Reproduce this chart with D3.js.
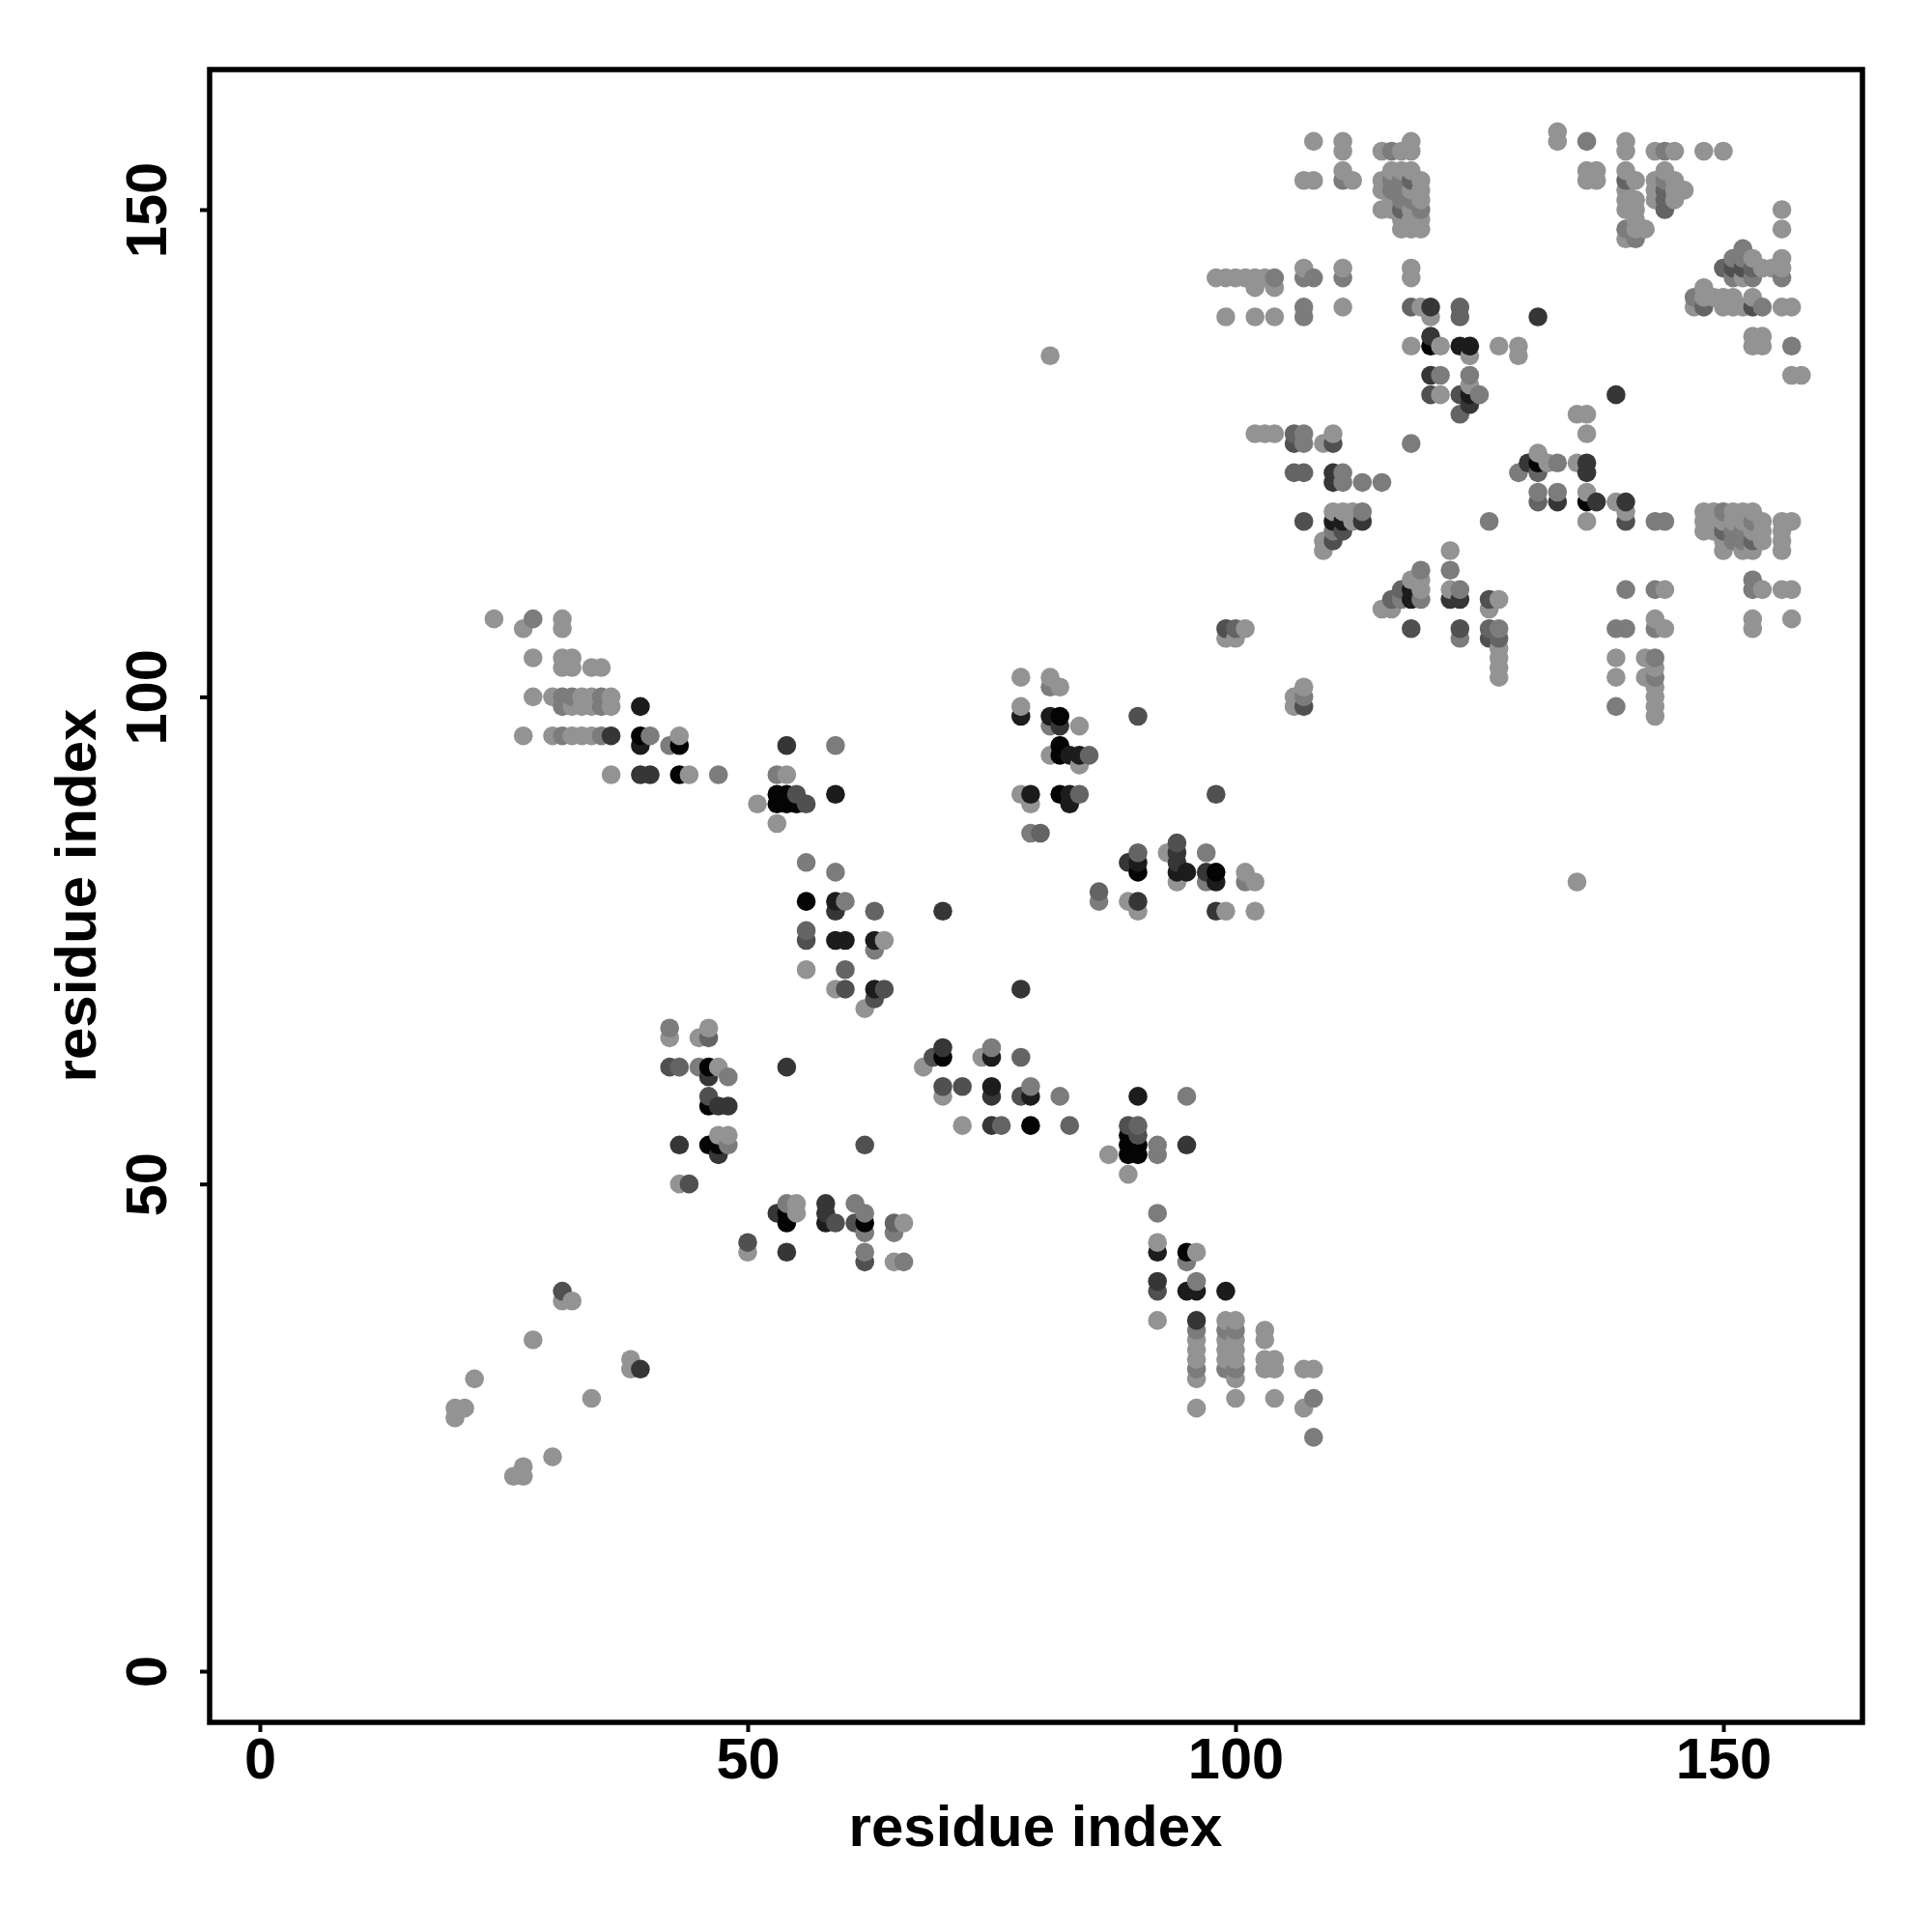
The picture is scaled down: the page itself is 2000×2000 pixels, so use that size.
<!DOCTYPE html>
<html><head><meta charset="utf-8">
<script src="https://d3js.org/d3.v7.min.js"></script>
<style>html,body{margin:0;padding:0;background:#fff}svg{display:block}</style>
</head><body>
<script>
const tickValues = [0, 50, 100, 150];
const axisTitle = "residue index";

// contacts [residue x, residue y], grouped by grey shade, light to dark
const shadeLight = [
[133,158],[108,157],[111,157],[118,157],[133,157],[140,157],[111,156],[115,156],[117,156],[118,156],[140,156],[143,156],[145,156],[148,156],[150,156],
[111,154],[116,154],[117,154],[118,154],[136,154],[137,154],[140,154],[144,154],
[107,153],[108,153],[112,153],[115,153],[119,153],[136,153],[137,153],[141,153],[143,153],[145,153],
[115,152],[118,152],[119,152],[140,152],[143,152],[145,152],[146,152],
[116,151],[119,151],[140,151],[141,151],[143,151],[145,151],
[115,150],[116,150],[118,150],[140,150],[141,150],[156,150],
[117,149],[118,149],[119,149],[141,149],[117,148],[118,148],[119,148],[141,148],[142,148],[156,148],[140,147],
[153,145],[156,145],[154,144],[155,144],[156,144],[152,143],[148,142],
[148,141],[149,141],[150,141],[151,141],[153,141],[147,140],[150,140],[151,140],[152,140],[156,140],[157,140],
[153,137],[154,137],[153,136],[154,136],[157,133],[158,133],
[98,143],[99,143],[100,143],[101,143],[102,143],[103,143],[102,142],[104,142],
[107,144],[111,144],[118,144],[118,143],[99,139],[102,139],[104,139],[111,140],[119,140],[120,139],
[118,136],[121,136],[127,136],[129,136],[124,135],[129,135],[124,132],[121,131],[125,131],[135,129],[136,129],[136,127],[81,135],[135,81],
[102,127],[103,127],[104,127],[110,127],[109,126],[131,125],[132,124],[135,124],
[131,121],[136,121],[139,120],[110,119],[111,119],[112,119],[140,119],[112,118],[136,118],[109,116],[109,115],
[148,119],[149,119],[151,119],[152,119],[153,119],[148,118],[149,118],[150,118],[151,118],[152,118],[154,118],[156,118],[157,118],
[148,117],[149,117],[153,117],[154,117],[156,117],[150,116],[154,116],[150,115],[152,115],[153,115],[156,115],[156,116],
[153,112],[154,111],[156,111],[157,111],[153,108],[153,107],[157,108],[144,111],[143,108],[144,107],
[139,104],[142,104],[143,103],[139,102],[142,102],[143,102],[143,101],[143,100],[143,99],[143,98],[127,105],[127,104],[127,103],[127,102],
[122,115],[118,112],[119,112],[119,111],[115,109],[116,109],[122,111],[127,110],[126,109],[101,107],[99,106],[100,106],[107,101],[106,100],[106,99],
[24,108],[27,107],[31,108],[31,107],[28,104],[31,104],[32,104],[31,103],[32,103],[34,103],[35,103],
[28,100],[30,100],[33,100],[34,100],[36,100],[32,99],[33,99],[34,99],[36,99],
[27,96],[30,96],[32,96],[33,96],[34,96],[43,96],[36,92],[44,92],[54,92],[51,89],[53,87],
[78,102],[81,102],[82,101],[78,99],[84,97],[81,94],[84,93],[78,90],[79,89],[93,84],[94,81],[101,82],[102,81],[89,79],[90,78],[99,78],[102,78],
[64,75],[56,72],[59,70],[62,68],[46,66],[42,65],[45,65],[47,62],[47,55],[48,55],[43,50],
[68,62],[74,63],[75,64],[70,59],[72,56],[87,53],[89,51],[95,59],[92,54],
[50,43],[55,48],[55,47],[66,46],[65,42],[92,44],[96,43],[92,36],
[96,34],[96,33],[96,32],[96,30],[96,27],[99,36],[100,36],[99,34],[100,34],[99,33],[100,33],[99,32],[100,32],[100,30],[100,28],
[103,35],[103,34],[103,32],[104,32],[103,31],[104,31],[104,28],[107,31],[108,31],[107,27],
[31,38],[32,38],[28,34],[38,32],[38,31],[22,30],[34,28],[20,27],[21,27],[20,26],[30,22],[27,21],[26,20],[27,20]
];
const shadeMid = [
[144,156],[116,156],[116,153],[117,153],[111,153],[144,153],[116,152],[117,152],[117,151],[118,151],[119,150],[140,148],[141,147],
[136,157],[152,146],[151,145],[152,145],[151,143],[153,143],[156,143],[147,141],[154,140],[157,136],
[104,143],[108,143],[111,143],[107,143],[118,140],[107,139],[107,140],[121,133],[124,133],[125,131],
[107,127],[118,126],[107,126],[133,124],[129,123],[111,123],[111,122],[113,122],[115,122],[133,121],[131,121],[113,119],
[126,118],[143,118],[144,118],[110,117],[150,119],[153,118],[151,117],[152,117],[152,116],[151,116],[153,112],[153,111],[140,111],[143,111],
[143,107],[139,107],[140,107],[143,104],[139,99],[122,113],[119,113],[117,110],[119,110],[123,111],[126,107],[127,107],[123,106],[100,107],[107,100],
[28,108],[31,100],[32,100],[35,100],[31,99],[35,99],[31,96],[35,96],[40,96],[42,95],[59,95],[47,92],[53,92],
[81,101],[81,97],[79,86],[97,84],[97,81],[101,81],[86,79],[59,82],[60,79],[63,74],[56,83],
[42,66],[48,61],[48,54],[45,62],[79,60],[82,59],[75,64],[78,63],[92,53],[92,54],[95,59],[83,56],
[54,48],[61,48],[62,47],[62,45],[62,43],[65,45],[66,42],[92,47],[96,40],[95,42],[96,35],[96,31],[99,35],[100,35],[99,31],[100,31],[108,28],[108,24],[143,102]
];
const shadeDim = [
[118,153],[140,153],[144,152],[144,151],[117,150],[144,150],[150,144],[153,144],[148,140],[118,140],[123,140],[123,139],[123,129],
[106,127],[106,123],[107,123],[131,123],[131,120],[150,117],[153,116],[116,110],[117,111],[127,106],[123,107],[126,107],[116,110],[118,107],[100,107],
[85,94],[84,90],[80,86],[90,84],[86,80],[56,76],[60,72],[60,70],[63,78],[46,65],[43,62],[78,63],[76,56],[65,46],[83,56],[90,56]
];
const shadeDark = [
[151,144],[152,144],[153,140],[106,126],[110,126],[123,131],[120,131],[111,117],[110,116],[107,118],[140,118],[126,110],[126,106],[99,107],[107,99],
[118,107],[123,107],[90,98],[98,90],[94,85],[56,75],[59,78],[63,69],[64,70],[60,70],[42,62],[46,59],[44,50],[69,63],[70,60],[72,60],[78,59],[89,56],[90,55],[62,54],
[50,44],[59,46],[62,42],[92,39],[31,39],[61,46],[55,90],[56,89]
];
const shadeBlackish = [
[131,139],[120,140],[120,137],[120,133],[130,124],[136,124],[136,123],[110,123],[110,122],[113,118],[133,120],[137,120],[140,120],[130,124],[122,110],[123,110],[139,131],[124,130],
[36,96],[39,92],[40,92],[54,95],[82,97],[89,83],[94,84],[94,83],[97,82],[90,79],[98,78],[70,78],[78,70],[59,78],
[47,58],[48,58],[43,54],[47,53],[46,61],[70,64],[75,59],[75,56],[95,54],[53,47],[58,48],[58,47],[54,43],[92,40],[96,36],[39,31],[48,58],[54,62]
];
const shadeNearBlack = [
[123,136],[124,136],[124,131],[110,118],[111,118],[118,111],[118,110],[39,99],[39,95],[59,90],[81,98],[83,94],[84,94],[83,90],[83,89],[79,90],[78,98],[90,83],[94,82],[95,82],[98,81],
[59,79],[60,75],[59,75],[63,75],[63,70],[75,63],[75,60],[79,59],[90,59],[58,46],[95,39],[96,39],[99,39],[92,43]
];
const shadeBlack = [
[120,136],[131,124],[136,120],[39,96],[43,95],[43,92],[53,90],[54,90],[53,89],[54,89],[55,89],[82,98],[82,94],[82,95],[82,90],[90,82],[98,82],
[56,79],[46,62],[46,58],[46,54],[47,54],[70,63],[79,56],[89,55],[89,54],[90,54],[89,53],[90,53],[54,47],[54,46],[62,46],[95,43]
];

const shadeGroups = [
  {color:"#939393", pts:shadeLight},
  {color:"#7c7c7c", pts:shadeMid},
  {color:"#646464", pts:shadeDim},
  {color:"#505050", pts:shadeDark},
  {color:"#363636", pts:shadeBlackish},
  {color:"#1c1c1c", pts:shadeNearBlack},
  {color:"#040404", pts:shadeBlack}
];

const seen = new Map();
shadeGroups.slice().reverse().forEach(g => g.pts.forEach(p => {
  const k = p[0]+","+p[1];
  if(!seen.has(k)) seen.set(k,{x:p[0],y:p[1],color:g.color});
}));
const contacts = Array.from(seen.values()).sort((a,b)=>d3.ascending(a.x,b.x)||d3.ascending(a.y,b.y));

const W=2000,H=2000;
const box={l:217,r:1928,t:72,b:1783};
const x=d3.scaleLinear().domain([0,150]).range([269,1784]);
const y=d3.scaleLinear().domain([0,150]).range([1730,217]);

const svg=d3.select("body").append("svg").attr("width",W).attr("height",H).attr("viewBox",`0 0 ${W} ${H}`);
const font="'Liberation Sans',Arial,sans-serif";

svg.append("g").selectAll("circle").data(contacts).join("circle")
  .attr("cx",d=>x(d.x)).attr("cy",d=>y(d.y)).attr("r",9.8).attr("fill",d=>d.color);

svg.append("rect").attr("x",box.l).attr("y",box.t).attr("width",box.r-box.l).attr("height",box.b-box.t)
  .attr("fill","none").attr("stroke","#000").attr("stroke-width",5.5);

const gx=svg.append("g").attr("transform",`translate(0,${box.b})`)
  .call(d3.axisBottom(x).tickValues(tickValues).tickSize(10).tickPadding(10).tickFormat(d3.format("d")));
const gy=svg.append("g").attr("transform",`translate(${box.l},0)`)
  .call(d3.axisLeft(y).tickValues(tickValues).tickSize(10).tickPadding(10).tickFormat(d3.format("d")));
[gx,gy].forEach(g=>{
  g.select(".domain").remove();
  g.selectAll(".tick line").attr("stroke","#000").attr("stroke-width",4);
  g.selectAll(".tick text").attr("fill","#000").style("font-family",font).style("font-weight","700").style("font-size","59.5px");
});
gx.selectAll(".tick text").attr("y",0).attr("dy",null).attr("text-anchor","middle").attr("transform","translate(0,58)");
gy.selectAll(".tick text").attr("x",0).attr("dy",null).attr("text-anchor","middle").attr("transform","translate(-45,0) rotate(-90)");

svg.append("text").attr("x",1072).attr("y",1911).attr("text-anchor","middle")
  .style("font-family",font).style("font-weight","700").style("font-size","60px").text(axisTitle);
svg.append("text").attr("transform","translate(99,927) rotate(-90)").attr("text-anchor","middle")
  .style("font-family",font).style("font-weight","700").style("font-size","60px").text(axisTitle);
</script>
</body></html>
